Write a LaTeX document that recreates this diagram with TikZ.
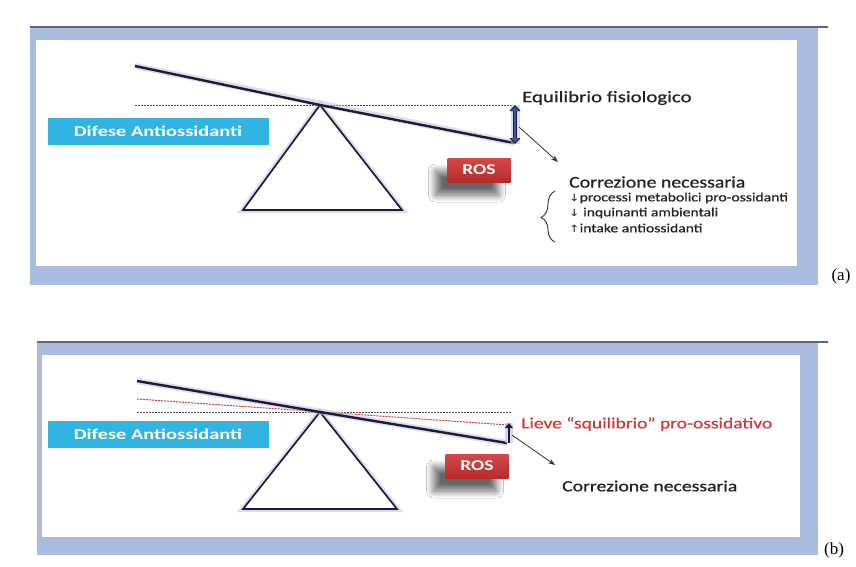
\documentclass[tikz,border=0pt]{standalone}
\usepackage{fontspec}
\usepackage{graphicx}
\setmainfont{Carlito}
\newfontfamily\semib[FakeBold=0.6]{Carlito}
\newfontfamily\arrowfont{DejaVu Sans}
\newfontfamily\serifl{Liberation Serif}
\usetikzlibrary{arrows.meta,shadows,shadows.blur,decorations.pathreplacing}
\newcommand{\hstretch}[2]{\scalebox{#1}[1]{#2}}
\definecolor{framebl}{HTML}{A9BCDF}
\definecolor{topline}{HTML}{5E6678}
\definecolor{cyanbox}{HTML}{31B4E2}
\definecolor{rostop}{HTML}{D44848}
\definecolor{rosbot}{HTML}{B52B2B}
\definecolor{beamc}{HTML}{1C1C38}
\definecolor{glow}{HTML}{C9BDE6}
\definecolor{arrowbl}{HTML}{2F5E9E}
\definecolor{redtxt}{HTML}{D23A3A}
\definecolor{txtc}{HTML}{222222}
\tikzset{
  beam/.style={line width=2.4pt, draw=beamc},
  glowline/.style={line width=6pt, draw=glow, opacity=0.55},
  tri/.style={draw=beamc, line width=1.7pt, fill=white},
  difese/.style={fill=cyanbox, text=white, font=\fontsize{15}{17}\selectfont\bfseries, minimum width=221pt, minimum height=27pt, inner sep=0pt},
  ros/.style={top color=rostop, bottom color=rosbot, text=white, font=\fontsize{15}{17}\selectfont\bfseries, minimum width=63pt, minimum height=24pt, inner sep=0pt, blur shadow={shadow xshift=-12pt, shadow yshift=-13pt, shadow blur steps=12, shadow blur radius=7pt, shadow opacity=60}},
  thinarrow/.style={draw=black!80, line width=0.8pt, -{Stealth[length=7pt,width=5pt]}},
  dasheds/.style={draw=black!70, line width=1pt, dash pattern=on 2pt off 1pt},
  lbl/.style={anchor=west, inner sep=0pt, text=txtc},
  panelname/.style={font=\serifl\fontsize{17}{19}\selectfont, inner sep=0pt},
}
\begin{document}
\begin{tikzpicture}[x=1pt,y=-1pt]
\useasboundingbox (0,0) rectangle (856,566);
\fill[white] (0,0) rectangle (856,566);
% ---------- panel (a) ----------
\fill[framebl] (30,27) rectangle (818,285);
\fill[white] (36,40) rectangle (797,266);
\draw[topline, line width=1.5pt] (30,27) -- (828,27);
\node[panelname] (pa) at (841,276) {(a)};

\coordinate (aL) at (135,66);
\coordinate (aP) at (320,105);
\coordinate (aR) at (514,143);
\coordinate (aD0) at (135,105);
\coordinate (aD1) at (512,105);
\coordinate (aB1) at (243,210);
\coordinate (aB2) at (402,210);
\draw[dasheds] (aD0) -- (aD1);
\draw[glowline] (aP) -- (aB1) -- (aB2) -- cycle;
\draw[tri] (aP) -- (aB1) -- (aB2) -- cycle;
\draw[glowline] (aL) -- (aR);
\draw[beam] (aL) -- (aP) -- (aR);
\coordinate (aA1) at (515,105);
\coordinate (aA2) at (515,144);
\draw[glow, line width=9pt, opacity=0.6] (aA1) -- (aA2);
\draw[beamc, line width=4.5pt, {Triangle[length=6pt,width=11pt]}-{Triangle[length=6pt,width=11pt]}] (aA1) -- (aA2);
\draw[arrowbl, line width=2.5pt, shorten <=2pt, shorten >=2pt, {Triangle[length=4pt,width=8pt]}-{Triangle[length=4pt,width=8pt]}] (aA1) -- (aA2);

\node[difese] (adif) at (158,131) {\hstretch{1.36}{Difese Antiossidanti}};
\node[ros] (aros) at (479,170) {\hstretch{1.3}{ROS}};
\node[lbl, font=\semib\fontsize{16}{18}\selectfont] (aeq) at (522,98) {\hstretch{1.3}{Equilibrio fisiologico}};
\node[lbl, font=\semib\fontsize{16.5}{18}\selectfont] (acor) at (569,182) {\hstretch{1.2}{Correzione necessaria}};
\node[lbl, font=\semib\fontsize{12.5}{14}\selectfont] (al1) at (569,198) {\hstretch{1.25}{{\arrowfont\fontsize{10}{12}\selectfont ↓}processi metabolici pro-ossidanti}};
\node[lbl, font=\semib\fontsize{12.5}{14}\selectfont] (al2) at (569,213) {\hstretch{1.25}{{\arrowfont\fontsize{10}{12}\selectfont ↓} inquinanti ambientali}};
\node[lbl, font=\semib\fontsize{12.5}{14}\selectfont] (al3) at (569,228) {\hstretch{1.25}{{\arrowfont\fontsize{10}{12}\selectfont ↑}intake antiossidanti}};
\coordinate (aS) at (519,127);
\coordinate (aE) at (558,162);
\draw[thinarrow] (aS) -- (aE);
\coordinate (abr1) at (555,191);
\coordinate (abr2) at (555,242);
\draw[black!80, line width=0.9pt, decorate, decoration={brace, amplitude=14pt, aspect=0.48}] (abr2) -- (abr1);

% ---------- panel (b) ----------
\fill[framebl] (37,342) rectangle (818,555);
\fill[white] (42,355) rectangle (800,537);
\draw[topline, line width=1.5pt] (37,342) -- (828,342);
\node[panelname] (pb) at (834,550) {(b)};

\coordinate (bL) at (137,381);
\coordinate (bP) at (320,412);
\coordinate (bR) at (507,443);
\coordinate (bD0) at (137,412);
\coordinate (bD1) at (512,412);
\coordinate (bQ0) at (137,399);
\coordinate (bQ1) at (508,425);
\coordinate (bB1) at (243,509);
\coordinate (bB2) at (397,509);
\draw[dasheds] (bD0) -- (bD1);
\draw[redtxt, line width=1pt, dash pattern=on 2pt off 1pt] (bQ0) -- (bQ1);
\draw[glowline] (bP) -- (bB1) -- (bB2) -- cycle;
\draw[tri] (bP) -- (bB1) -- (bB2) -- cycle;
\draw[glowline] (bL) -- (bR);
\draw[beam] (bL) -- (bP) -- (bR);
\coordinate (bA1) at (509,423);
\coordinate (bA2) at (509,443);
\draw[glow, line width=8pt, opacity=0.6] (bA1) -- (bA2);
\draw[beamc, line width=2.8pt, -{Triangle[length=5pt,width=8pt]}] (bA2) -- (bA1);

\node[difese] (bdif) at (158,434) {\hstretch{1.36}{Difese Antiossidanti}};
\node[ros] (bros) at (477,466) {\hstretch{1.3}{ROS}};
\node[lbl, text=redtxt, font=\semib\fontsize{15.5}{17}\selectfont] (blv) at (521,424) {\hstretch{1.26}{Lieve “squilibrio” pro-ossidativo}};
\node[lbl, font=\semib\fontsize{15.5}{17}\selectfont] (bcor) at (562,486) {\hstretch{1.27}{Correzione necessaria}};
\coordinate (bS) at (512,435);
\coordinate (bE) at (555,465);
\draw[thinarrow] (bS) -- (bE);
\end{tikzpicture}
\end{document}
